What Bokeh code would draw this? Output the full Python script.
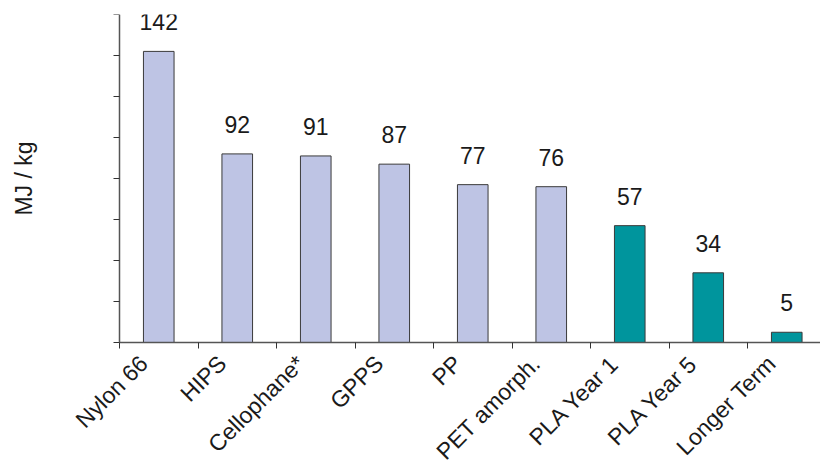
import math
from bokeh.plotting import figure
from bokeh.models import (ColumnDataSource, FixedTicker, Range1d, LinearAxis,
                          Label)
from bokeh.core.properties import value
from bokeh.embed import file_html
from bokeh.resources import INLINE

categories = ["Nylon 66", "HIPS", "Cellophane*", "GPPS", "PP", "PET amorph.",
              "PLA Year 1", "PLA Year 5", "Longer Term"]
energy = [142, 92, 91, 87, 77, 76, 57, 34, 5]
bar_colors = ["#bec4e4"] * 6 + ["#00959d"] * 3
y_ticks = [0, 20, 40, 60, 80, 100, 120, 140, 160]

centers = [i + 0.5 for i in range(len(categories))]
boundaries = list(range(len(categories)))
src = ColumnDataSource(dict(x=centers, top=energy, color=bar_colors,
                            label=[str(v) for v in energy]))
cat_src = ColumnDataSource(dict(x=centers, y=[y_ticks[0]] * len(categories),
                                name=categories))

FONT = "Liberation Sans"
W, H = 820, 467
LEFT_PX, TOP_PX, BASE_PX = 119, 14, 342
cat_px = 78.5
ppu = (BASE_PX - TOP_PX) / (y_ticks[-1] - y_ticks[0])

x_start = -LEFT_PX / cat_px
x_end = (W - LEFT_PX) / cat_px
y_start = -(H - BASE_PX) / ppu

p = figure(width=W, height=H, output_backend="svg", toolbar_location=None,
           x_range=Range1d(x_start, x_end),
           y_range=Range1d(y_start, y_ticks[-1]),
           x_axis_type=None, y_axis_type=None,
           min_border_left=0, min_border_right=0, min_border_top=TOP_PX,
           min_border_bottom=0)
p.outline_line_color = None
p.grid.visible = False

p.vbar(x="x", top="top", width=0.39, bottom=0, source=src,
       fill_color="color", line_color="#3a3a3a", line_width=1)
p.text(x="x", y="top", text="label", source=src, text_align="center",
       text_baseline="bottom", y_offset=-21, text_font=value(FONT),
       text_font_size="23px", text_color="#1a1a1a")

# category labels, rotated 45 degrees
p.text(x="x", y="y", text="name", source=cat_src, angle=math.pi / 4,
       text_align="right", text_baseline="middle", x_offset=-15, y_offset=17,
       text_font=value(FONT), text_font_size="23px", text_color="#1a1a1a")

xa = LinearAxis(fixed_location=0, bounds=(0, x_end),
                ticker=FixedTicker(ticks=boundaries, minor_ticks=[]))
xa.major_tick_out = 6
xa.major_tick_in = 0
xa.major_tick_line_color = "#333333"
xa.minor_tick_line_color = None
xa.axis_line_color = "#555555"
xa.axis_line_width = 1.5
xa.major_label_text_font_size = "0px"
p.add_layout(xa, "below")

ya = LinearAxis(fixed_location=0, bounds=(y_ticks[0], y_ticks[-1]),
                ticker=FixedTicker(ticks=y_ticks, minor_ticks=[]))
ya.major_tick_out = 6
ya.major_tick_in = 0
ya.major_tick_line_color = "#333333"
ya.minor_tick_line_color = None
ya.axis_line_color = "#555555"
ya.axis_line_width = 1.5
ya.major_label_text_font_size = "0px"
p.add_layout(ya, "left")

p.add_layout(Label(x=23, y=(y_ticks[0] + y_ticks[-1]) / 2, x_units="screen",
                   text="MJ / kg", angle=math.pi / 2, text_align="center",
                   text_baseline="middle", text_font=FONT,
                   text_font_size="23px", text_color="#1a1a1a"))

open("out.html", "w").write(file_html(p, INLINE))
